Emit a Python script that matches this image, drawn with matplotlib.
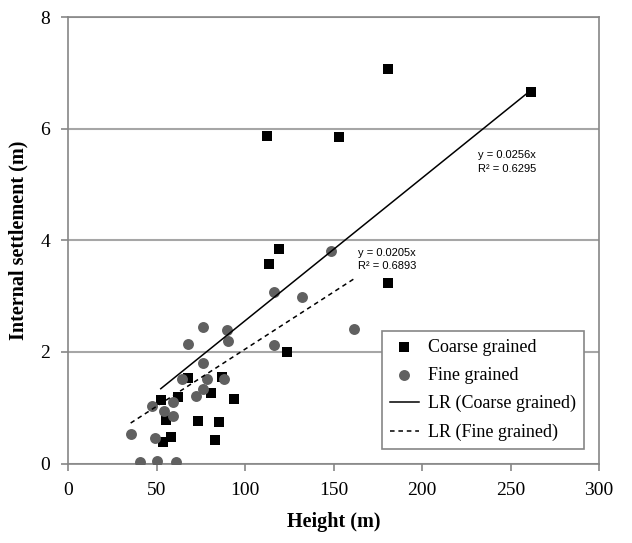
import matplotlib.pyplot as plt
import numpy as np

# coarse grained fill (squares)
coarse_h = [180.6, 261.6, 112.3, 153.3, 180.6, 119.2, 113.4, 123.5, 52.4, 67.6,
            62.3, 80.8, 86.8, 94.0, 55.4, 73.6, 85.5, 58.2, 53.5, 83.2]
coarse_s = [7.08, 6.66, 5.87, 5.86, 3.23, 3.85, 3.57, 2.00, 1.14, 1.54,
            1.20, 1.26, 1.55, 1.15, 0.78, 0.77, 0.74, 0.48, 0.38, 0.43]

# fine grained fill (circles)
fine_h = [35.4, 40.7, 47.5, 49.2, 50.1, 54.4, 59.5, 59.5, 60.8, 64.2, 67.6, 72.3,
          76.1, 76.1, 76.5, 78.4, 88.3, 90.4, 90.0, 116.4, 116.4, 132.4, 148.6, 161.8]
fine_s = [0.53, 0.03, 1.03, 0.45, 0.04, 0.94, 1.11, 0.85, 0.03, 1.51, 2.14, 1.21,
          1.80, 1.34, 2.44, 1.51, 1.51, 2.20, 2.39, 3.07, 2.13, 2.98, 3.82, 2.42]

slope_coarse = 0.0256
slope_fine = 0.0205
r2_coarse = 0.6295
r2_fine = 0.6893

serif = 'Liberation Serif'
GRID = '#a6a6a6'
SPINE = '#868686'

fig = plt.figure(figsize=(6.32, 5.43), dpi=100)
ax = fig.add_axes([0.1076, 0.1464, 0.8402, 0.8214])

ax.scatter(coarse_h, coarse_s, marker='s', s=50, color='black', zorder=3,
           label='Coarse grained', linewidths=0)
ax.scatter(fine_h, fine_s, marker='o', s=62, color='#606060', zorder=3,
           label='Fine grained', linewidths=0)

xc = np.array([min(coarse_h), max(coarse_h)])
ax.plot(xc, slope_coarse * xc, color='black', lw=1.1, zorder=4,
        label='LR (Coarse grained)')
xf = np.array([min(fine_h), max(fine_h)])
ax.plot(xf, slope_fine * xf, color='black', lw=1.1, ls=(0, (3, 2.5)), zorder=4,
        label='LR (Fine grained)')

ax.text(231.6, 5.62, f'y = {slope_coarse}x\nR² = {r2_coarse}', fontsize=8,
        family='Liberation Sans', va='top', linespacing=1.45)
ax.text(163.8, 3.87, f'y = {slope_fine}x\nR² = {r2_fine}', fontsize=8,
        family='Liberation Sans', va='top', linespacing=1.45)

ax.set_xlim(0, 300)
ax.set_ylim(0, 8)
ax.set_xticks(range(0, 301, 50))
ax.set_yticks(range(0, 9, 2))
ax.yaxis.grid(True, color=GRID, lw=1.5)
ax.set_axisbelow(True)
for sp in ax.spines.values():
    sp.set_color(SPINE)
    sp.set_linewidth(1.2)
ax.tick_params(colors=SPINE, length=5, width=1.2, labelcolor='black', labelsize=14)
ax.tick_params(axis='y', pad=8)
ax.tick_params(axis='x', pad=8)
for lab in ax.get_xticklabels() + ax.get_yticklabels():
    lab.set_family(serif)

ax.set_xlabel('Height (m)', family=serif, fontweight='bold', fontsize=14.5, labelpad=10)
ax.set_ylabel('Internal settlement (m)', family=serif, fontweight='bold', fontsize=14.5,
              labelpad=8)

leg = ax.legend(loc='lower left', bbox_to_anchor=(0.591, 0.0325), borderaxespad=0,
                fancybox=False, edgecolor=SPINE, framealpha=1,
                prop={'family': serif, 'size': 13}, labelspacing=0.62,
                handlelength=1.6, handletextpad=0.5, borderpad=0.45)
leg.get_frame().set_linewidth(1.2)

fig.savefig('out.png', dpi=100)
